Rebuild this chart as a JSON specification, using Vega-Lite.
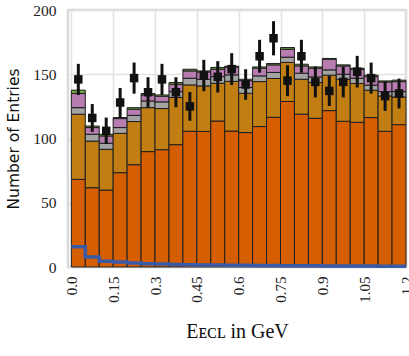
{
  "$schema": "https://vega.github.io/schema/vega-lite/v6.json",
  "autosize": "none",
  "width": 338,
  "height": 257,
  "padding": {"left": 68, "top": 10, "right": 3, "bottom": 89},
  "background": "white",
  "config": {
    "view": {"stroke": "#d9d9d9", "strokeWidth": 2.5},
    "axis": {"gridColor": "#e2e2e2", "gridWidth": 1.5, "domain": false, "ticks": false, "labelColor": "#222", "titleColor": "#111"}
  },
  "datasets": {
    "mc": [
      {"lo":0.00,"hi":0.05,"comp":"a","v":68.2},{"lo":0.00,"hi":0.05,"comp":"b","v":50.7},{"lo":0.00,"hi":0.05,"comp":"c","v":5.1},{"lo":0.00,"hi":0.05,"comp":"d","v":11.0},{"lo":0.00,"hi":0.05,"comp":"e","v":2.6},
      {"lo":0.05,"hi":0.10,"comp":"a","v":61.7},{"lo":0.05,"hi":0.10,"comp":"b","v":36.3},{"lo":0.05,"hi":0.10,"comp":"c","v":5.3},{"lo":0.05,"hi":0.10,"comp":"d","v":5.2},{"lo":0.05,"hi":0.10,"comp":"e","v":1.2},
      {"lo":0.10,"hi":0.15,"comp":"a","v":59.9},{"lo":0.10,"hi":0.15,"comp":"b","v":31.7},{"lo":0.10,"hi":0.15,"comp":"c","v":4.7},{"lo":0.10,"hi":0.15,"comp":"d","v":5.7},{"lo":0.10,"hi":0.15,"comp":"e","v":1.3},
      {"lo":0.15,"hi":0.20,"comp":"a","v":73.4},{"lo":0.15,"hi":0.20,"comp":"b","v":30.6},{"lo":0.15,"hi":0.20,"comp":"c","v":4.5},{"lo":0.15,"hi":0.20,"comp":"d","v":7.0},{"lo":0.15,"hi":0.20,"comp":"e","v":0.8},
      {"lo":0.20,"hi":0.25,"comp":"a","v":79.6},{"lo":0.20,"hi":0.25,"comp":"b","v":33.6},{"lo":0.20,"hi":0.25,"comp":"c","v":4.8},{"lo":0.20,"hi":0.25,"comp":"d","v":4.8},{"lo":0.20,"hi":0.25,"comp":"e","v":1.2},
      {"lo":0.25,"hi":0.30,"comp":"a","v":89.8},{"lo":0.25,"hi":0.30,"comp":"b","v":34.2},{"lo":0.25,"hi":0.30,"comp":"c","v":5.2},{"lo":0.25,"hi":0.30,"comp":"d","v":4.7},{"lo":0.25,"hi":0.30,"comp":"e","v":1.1},
      {"lo":0.30,"hi":0.35,"comp":"a","v":91.3},{"lo":0.30,"hi":0.35,"comp":"b","v":32.0},{"lo":0.30,"hi":0.35,"comp":"c","v":5.2},{"lo":0.30,"hi":0.35,"comp":"d","v":4.4},{"lo":0.30,"hi":0.35,"comp":"e","v":1.0},
      {"lo":0.35,"hi":0.40,"comp":"a","v":95.2},{"lo":0.35,"hi":0.40,"comp":"b","v":36.7},{"lo":0.35,"hi":0.40,"comp":"c","v":4.6},{"lo":0.35,"hi":0.40,"comp":"d","v":5.7},{"lo":0.35,"hi":0.40,"comp":"e","v":1.4},
      {"lo":0.40,"hi":0.45,"comp":"a","v":105.6},{"lo":0.40,"hi":0.45,"comp":"b","v":36.1},{"lo":0.40,"hi":0.45,"comp":"c","v":5.2},{"lo":0.40,"hi":0.45,"comp":"d","v":5.7},{"lo":0.40,"hi":0.45,"comp":"e","v":1.3},
      {"lo":0.45,"hi":0.50,"comp":"a","v":105.5},{"lo":0.45,"hi":0.50,"comp":"b","v":35.4},{"lo":0.45,"hi":0.50,"comp":"c","v":5.2},{"lo":0.45,"hi":0.50,"comp":"d","v":5.7},{"lo":0.45,"hi":0.50,"comp":"e","v":0.8},
      {"lo":0.50,"hi":0.55,"comp":"a","v":113.6},{"lo":0.50,"hi":0.55,"comp":"b","v":29.4},{"lo":0.50,"hi":0.55,"comp":"c","v":5.2},{"lo":0.50,"hi":0.55,"comp":"d","v":5.7},{"lo":0.50,"hi":0.55,"comp":"e","v":1.4},
      {"lo":0.55,"hi":0.60,"comp":"a","v":105.8},{"lo":0.55,"hi":0.60,"comp":"b","v":38.7},{"lo":0.55,"hi":0.60,"comp":"c","v":5.0},{"lo":0.55,"hi":0.60,"comp":"d","v":6.0},{"lo":0.55,"hi":0.60,"comp":"e","v":0.8},
      {"lo":0.60,"hi":0.65,"comp":"a","v":104.6},{"lo":0.60,"hi":0.65,"comp":"b","v":30.6},{"lo":0.60,"hi":0.65,"comp":"c","v":4.5},{"lo":0.60,"hi":0.65,"comp":"d","v":5.3},{"lo":0.60,"hi":0.65,"comp":"e","v":1.1},
      {"lo":0.65,"hi":0.70,"comp":"a","v":109.3},{"lo":0.65,"hi":0.70,"comp":"b","v":35.0},{"lo":0.65,"hi":0.70,"comp":"c","v":4.4},{"lo":0.65,"hi":0.70,"comp":"d","v":6.0},{"lo":0.65,"hi":0.70,"comp":"e","v":1.0},
      {"lo":0.70,"hi":0.75,"comp":"a","v":116.5},{"lo":0.70,"hi":0.75,"comp":"b","v":30.2},{"lo":0.70,"hi":0.75,"comp":"c","v":4.7},{"lo":0.70,"hi":0.75,"comp":"d","v":5.9},{"lo":0.70,"hi":0.75,"comp":"e","v":1.1},
      {"lo":0.75,"hi":0.80,"comp":"a","v":128.8},{"lo":0.75,"hi":0.80,"comp":"b","v":30.4},{"lo":0.75,"hi":0.80,"comp":"c","v":4.1},{"lo":0.75,"hi":0.80,"comp":"d","v":6.2},{"lo":0.75,"hi":0.80,"comp":"e","v":1.3},
      {"lo":0.80,"hi":0.85,"comp":"a","v":118.9},{"lo":0.80,"hi":0.85,"comp":"b","v":27.2},{"lo":0.80,"hi":0.85,"comp":"c","v":4.7},{"lo":0.80,"hi":0.85,"comp":"d","v":5.7},{"lo":0.80,"hi":0.85,"comp":"e","v":1.3},
      {"lo":0.85,"hi":0.90,"comp":"a","v":115.7},{"lo":0.85,"hi":0.90,"comp":"b","v":27.9},{"lo":0.85,"hi":0.90,"comp":"c","v":4.3},{"lo":0.85,"hi":0.90,"comp":"d","v":6.8},{"lo":0.85,"hi":0.90,"comp":"e","v":1.0},
      {"lo":0.90,"hi":0.95,"comp":"a","v":121.7},{"lo":0.90,"hi":0.95,"comp":"b","v":27.6},{"lo":0.90,"hi":0.95,"comp":"c","v":4.1},{"lo":0.90,"hi":0.95,"comp":"d","v":8.3},{"lo":0.90,"hi":0.95,"comp":"e","v":0.6},
      {"lo":0.95,"hi":1.00,"comp":"a","v":113.4},{"lo":0.95,"hi":1.00,"comp":"b","v":32.7},{"lo":0.95,"hi":1.00,"comp":"c","v":3.9},{"lo":0.95,"hi":1.00,"comp":"d","v":6.5},{"lo":0.95,"hi":1.00,"comp":"e","v":0.8},
      {"lo":1.00,"hi":1.05,"comp":"a","v":112.6},{"lo":1.00,"hi":1.05,"comp":"b","v":30.2},{"lo":1.00,"hi":1.05,"comp":"c","v":4.1},{"lo":1.00,"hi":1.05,"comp":"d","v":7.0},{"lo":1.00,"hi":1.05,"comp":"e","v":0.8},
      {"lo":1.05,"hi":1.10,"comp":"a","v":116.3},{"lo":1.05,"hi":1.10,"comp":"b","v":21.3},{"lo":1.05,"hi":1.10,"comp":"c","v":3.9},{"lo":1.05,"hi":1.10,"comp":"d","v":6.7},{"lo":1.05,"hi":1.10,"comp":"e","v":1.1},
      {"lo":1.10,"hi":1.15,"comp":"a","v":105.6},{"lo":1.10,"hi":1.15,"comp":"b","v":27.5},{"lo":1.10,"hi":1.15,"comp":"c","v":3.4},{"lo":1.10,"hi":1.15,"comp":"d","v":7.5},{"lo":1.10,"hi":1.15,"comp":"e","v":0.8},
      {"lo":1.15,"hi":1.20,"comp":"a","v":110.8},{"lo":1.15,"hi":1.20,"comp":"b","v":21.5},{"lo":1.15,"hi":1.20,"comp":"c","v":4.2},{"lo":1.15,"hi":1.20,"comp":"d","v":7.8},{"lo":1.15,"hi":1.20,"comp":"e","v":1.1}
    ],
    "obs": [
      {"x":0.025,"n":146,"lo":133.9,"hi":158.1},
      {"x":0.075,"n":116,"lo":105.2,"hi":126.8},
      {"x":0.125,"n":106,"lo":95.7,"hi":116.3},
      {"x":0.175,"n":128,"lo":116.7,"hi":139.3},
      {"x":0.225,"n":147,"lo":134.9,"hi":159.1},
      {"x":0.275,"n":136,"lo":124.3,"hi":147.7},
      {"x":0.325,"n":146,"lo":133.9,"hi":158.1},
      {"x":0.375,"n":136,"lo":124.3,"hi":147.7},
      {"x":0.425,"n":125,"lo":113.8,"hi":136.2},
      {"x":0.475,"n":149,"lo":136.8,"hi":161.2},
      {"x":0.525,"n":148,"lo":135.8,"hi":160.2},
      {"x":0.575,"n":154,"lo":141.6,"hi":166.4},
      {"x":0.625,"n":142,"lo":130.1,"hi":153.9},
      {"x":0.675,"n":164,"lo":151.2,"hi":176.8},
      {"x":0.725,"n":178,"lo":164.7,"hi":191.3},
      {"x":0.775,"n":145,"lo":133.0,"hi":157.0},
      {"x":0.825,"n":164,"lo":151.2,"hi":176.8},
      {"x":0.875,"n":144,"lo":132.0,"hi":156.0},
      {"x":0.925,"n":137,"lo":125.3,"hi":148.7},
      {"x":0.975,"n":144,"lo":132.0,"hi":156.0},
      {"x":1.025,"n":152,"lo":139.7,"hi":164.3},
      {"x":1.075,"n":147,"lo":134.9,"hi":159.1},
      {"x":1.125,"n":133,"lo":121.5,"hi":144.5},
      {"x":1.175,"n":135,"lo":123.4,"hi":146.6}
    ],
    "sig": [
      {"x":0.00,"v":15.7},{"x":0.05,"v":7.7},{"x":0.10,"v":4.5},{"x":0.15,"v":3.8},{"x":0.20,"v":3.2},{"x":0.25,"v":2.6},
      {"x":0.30,"v":2.3},{"x":0.35,"v":2.0},{"x":0.40,"v":1.8},{"x":0.45,"v":1.6},{"x":0.50,"v":1.5},{"x":0.55,"v":1.4},
      {"x":0.60,"v":1.3},{"x":0.65,"v":1.2},{"x":0.70,"v":1.1},{"x":0.75,"v":1.0},{"x":0.80,"v":0.9},{"x":0.85,"v":0.9},
      {"x":0.90,"v":0.8},{"x":0.95,"v":0.8},{"x":1.00,"v":0.7},{"x":1.05,"v":0.7},{"x":1.10,"v":0.6},{"x":1.15,"v":0.6},{"x":1.20,"v":0.6}
    ]
  },
  "encoding": {
    "x": {
      "type": "quantitative",
      "scale": {"domain": [-0.012, 1.2], "nice": false, "zero": false},
      "axis": {
        "values": [0, 0.15, 0.3, 0.45, 0.6, 0.75, 0.9, 1.05, 1.2],
        "labelExpr": "datum.value == 0 ? '0.0' : format(datum.value, '.2~f')",
        "labelAngle": 270, "labelAlign": "right", "labelBaseline": "middle",
        "labelFont": "Liberation Serif", "labelFontSize": 15, "labelPadding": 9,
        "labelFlush": false, "labelOverlap": false,
        "title": "Eᴇᴄʟ in GeV", "titleFont": "Liberation Serif", "titleFontSize": 20, "titleFontWeight": "normal", "titlePadding": 19
      }
    },
    "y": {
      "type": "quantitative",
      "scale": {"domain": [0, 200], "nice": false},
      "axis": {
        "values": [0, 50, 100, 150, 200],
        "labelFont": "Liberation Serif", "labelFontSize": 15.5, "labelPadding": 12,
        "title": "Number of Entries", "titleFont": "DejaVu Sans", "titleFontSize": 15.5, "titleFontWeight": "normal", "titlePadding": 11
      }
    }
  },
  "layer": [
    {
      "data": {"name": "mc"},
      "transform": [
        {"stack": "v", "groupby": ["lo"], "sort": [{"field": "comp", "order": "ascending"}], "as": ["v0", "v1"]}
      ],
      "mark": {"type": "rect", "stroke": "#1e1e1e", "strokeWidth": 1},
      "encoding": {
        "x": {"field": "lo", "type": "quantitative"},
        "x2": {"field": "hi"},
        "y": {"field": "v0", "type": "quantitative"},
        "y2": {"field": "v1"},
        "color": {"field": "comp", "type": "nominal", "scale": {"domain": ["a","b","c","d","e"], "range": ["#D55E00", "#C17E12", "#A3A3A3", "#B77CB0", "#6FA83F"]}, "legend": null}
      }
    },
    {
      "data": {"name": "sig"},
      "mark": {"type": "line", "interpolate": "step-after", "color": "#3A5AA6", "strokeWidth": 3.5},
      "encoding": {
        "x": {"field": "x", "type": "quantitative"},
        "y": {"field": "v", "type": "quantitative"}
      }
    },
    {
      "data": {"name": "obs"},
      "mark": {"type": "rule", "color": "#111", "strokeWidth": 3},
      "encoding": {
        "x": {"field": "x", "type": "quantitative"},
        "y": {"field": "lo", "type": "quantitative"},
        "y2": {"field": "hi"}
      }
    },
    {
      "data": {"name": "obs"},
      "mark": {"type": "square", "color": "#111", "opacity": 1, "size": 72, "filled": true},
      "encoding": {
        "x": {"field": "x", "type": "quantitative"},
        "y": {"field": "n", "type": "quantitative"}
      }
    }
  ]
}
